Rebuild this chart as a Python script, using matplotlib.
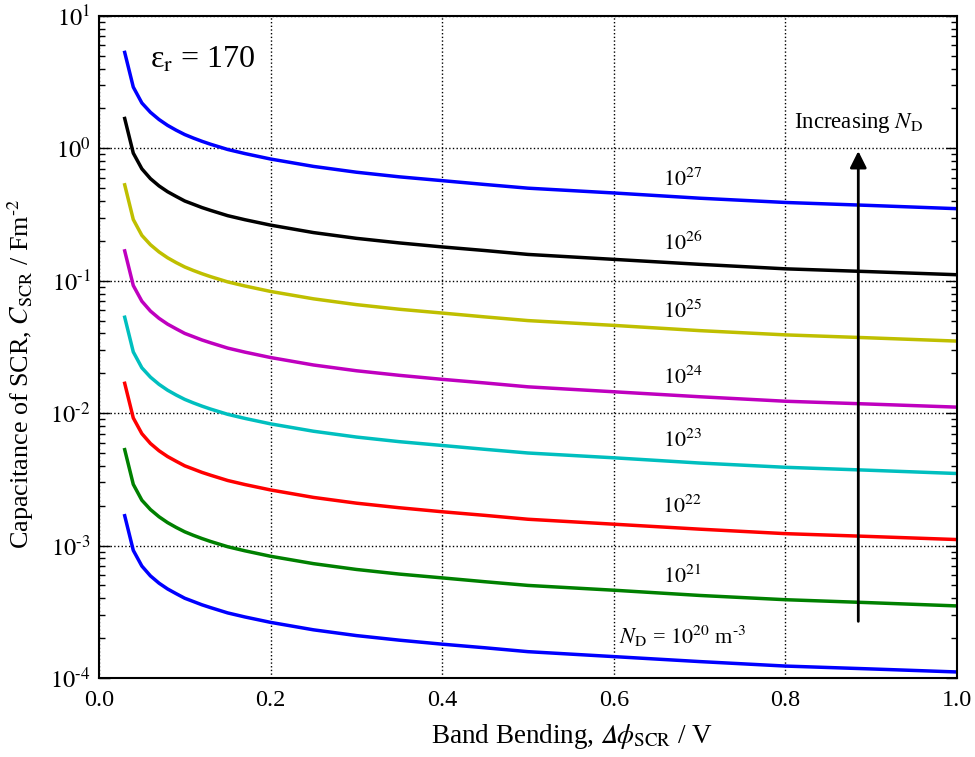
import numpy as np
import matplotlib
matplotlib.use("Agg")
import matplotlib.pyplot as plt
from matplotlib.ticker import LogLocator, MultipleLocator, NullFormatter, FuncFormatter

plt.rcParams['font.family'] = ['Liberation Serif', 'DejaVu Serif']
plt.rcParams['mathtext.fontset'] = 'stix'

HY = '\u2010'  # plain hyphen, as in the reference superscripts

# band bending / V
dphi = [0.03, 0.04, 0.05, 0.06, 0.07, 0.08, 0.09, 0.10, 0.11, 0.12, 0.13, 0.15, 0.17, 0.20,
        0.25, 0.30, 0.35, 0.40, 0.45, 0.50, 0.60, 0.70, 0.80, 0.90, 1.00]

# capacitance of SCR / F m^-2, one list per donor density
c_1e27 = [5.3, 2.9, 2.2, 1.87, 1.65, 1.49, 1.37, 1.27, 1.195, 1.13, 1.074, 0.98, 0.913, 0.83,
          0.73, 0.66, 0.609, 0.57, 0.533, 0.50, 0.46, 0.42, 0.39, 0.37, 0.35]
c_1e26 = [1.68, 0.92, 0.70, 0.59, 0.52, 0.47, 0.433, 0.40, 0.378, 0.357, 0.340, 0.31, 0.289, 0.263,
          0.231, 0.209, 0.193, 0.180, 0.169, 0.158, 0.145, 0.133, 0.123, 0.117, 0.111]
c_1e25 = [0.53, 0.29, 0.22, 0.187, 0.165, 0.149, 0.137, 0.127, 0.1195, 0.113, 0.1074, 0.098, 0.0913, 0.083,
          0.073, 0.066, 0.0609, 0.057, 0.0533, 0.050, 0.046, 0.042, 0.039, 0.037, 0.035]
c_1e24 = [0.168, 0.092, 0.070, 0.059, 0.052, 0.047, 0.0433, 0.040, 0.0378, 0.0357, 0.0340, 0.031, 0.0289, 0.0263,
          0.0231, 0.0209, 0.0193, 0.0180, 0.0169, 0.0158, 0.0145, 0.0133, 0.0123, 0.0117, 0.0111]
c_1e23 = [0.053, 0.029, 0.022, 0.0187, 0.0165, 0.0149, 0.0137, 0.0127, 0.01195, 0.0113, 0.01074, 0.0098, 0.00913, 0.0083,
          0.0073, 0.0066, 0.00609, 0.0057, 0.00533, 0.0050, 0.0046, 0.0042, 0.0039, 0.0037, 0.0035]
c_1e22 = [0.0168, 0.0092, 0.0070, 0.0059, 0.0052, 0.0047, 0.00433, 0.0040, 0.00378, 0.00357, 0.00340, 0.0031, 0.00289, 0.00263,
          0.00231, 0.00209, 0.00193, 0.00180, 0.00169, 0.00158, 0.00145, 0.00133, 0.00123, 0.00117, 0.00111]
c_1e21 = [0.0053, 0.0029, 0.0022, 0.00187, 0.00165, 0.00149, 0.00137, 0.00127, 0.001195, 0.00113, 0.001074, 0.00098, 0.000913, 0.00083,
          0.00073, 0.00066, 0.000609, 0.00057, 0.000533, 0.00050, 0.00046, 0.00042, 0.00039, 0.00037, 0.00035]
c_1e20 = [0.00168, 0.00092, 0.00070, 0.00059, 0.00052, 0.00047, 0.000433, 0.00040, 0.000378, 0.000357, 0.000340, 0.00031, 0.000289, 0.000263,
          0.000231, 0.000209, 0.000193, 0.000180, 0.000169, 0.000158, 0.000145, 0.000133, 0.000123, 0.000117, 0.000111]

series = [c_1e27, c_1e26, c_1e25, c_1e24, c_1e23, c_1e22, c_1e21, c_1e20]
colors = ['#0000ff', '#000000', '#bfbf00', '#bf00bf', '#00bfbf', '#ff0000', '#008000', '#0000ff']
labels = [r'$10^{27}$', r'$10^{26}$', r'$10^{25}$', r'$10^{24}$',
          r'$10^{23}$', r'$10^{22}$', r'$10^{21}$',
          r'$N_\mathrm{D}$ = $10^{20}$ m$^{' + HY + '3}$']
label_y = [0.58, 0.193, 0.058, 0.0185, 0.0062, 0.00195, 0.00058, 0.000205]

fig = plt.figure(figsize=(9.75, 7.57), dpi=100)
ax = fig.add_axes([0.1015, 0.1044, 0.88, 0.8746])

for c, col in zip(series, colors):
    ax.plot(dphi, c, '-', color=col, lw=2.5)

for lab, ly in zip(labels, label_y):
    ax.text(0.68, ly, lab, fontsize=16, ha='center', va='center')


def decade(v, pos):
    e = int(round(np.log10(v)))
    s = str(e).replace('-', HY)
    return r'$10^{' + s + '}$'


ax.set_yscale('log')
ax.set_xlim(0, 1)
ax.set_ylim(1e-4, 10)
ax.xaxis.set_major_locator(MultipleLocator(0.2))
ax.yaxis.set_major_locator(LogLocator(base=10, numticks=10))
ax.yaxis.set_major_formatter(FuncFormatter(decade))
ax.yaxis.set_minor_locator(LogLocator(base=10, subs=np.arange(2, 10), numticks=20))
ax.yaxis.set_minor_formatter(NullFormatter())
ax.tick_params(axis='both', which='both', direction='in', top=True, right=True, labelsize=17.5)
ax.tick_params(axis='x', which='major', length=0, pad=9)
ax.tick_params(axis='y', which='major', length=8, width=1, pad=6)
ax.tick_params(axis='y', which='minor', length=4, width=1)
ax.grid(True, which='major', linestyle=':', color='black', lw=1)
for sp in ax.spines.values():
    sp.set_linewidth(1.5)

ax.set_xlabel('Band Bending, $𝛥\\phi_\\mathrm{SCR}$ / V', fontsize=19.5)
ax.set_ylabel(r'Capacitance of SCR, $C_\mathrm{SCR}$ / Fm$^{' + HY + '2}$', fontsize=18.8)
ax.xaxis.set_label_coords(0.551, -0.066)
ax.yaxis.set_label_coords(-0.073, 0.459)

ax.text(0.06, 4.6, r'ε$_\mathrm{r}$ = 170', fontsize=23, ha='left', va='center')
ax.annotate('', xy=(0.885, 1.0), xytext=(0.885, 2.55e-4),
            arrowprops=dict(arrowstyle='-|>', color='black', lw=2, mutation_scale=25))
ax.text(0.885, 1.55, r'Increasing $N_\mathrm{D}$', fontsize=16.5, ha='center', va='center')

fig.savefig('out.png', dpi=100)
